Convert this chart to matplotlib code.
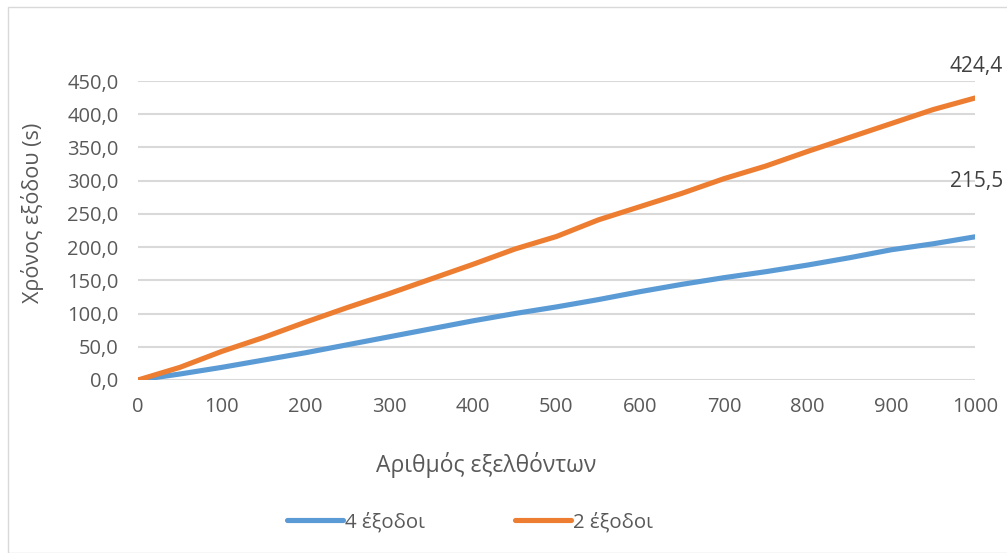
import numpy as np
import matplotlib.pyplot as plt
from matplotlib.patches import Rectangle
from matplotlib.ticker import FuncFormatter

# evacuees (x) and cumulative exit time in seconds for each scenario
evacuees = [0, 50, 100, 150, 200, 250, 300, 350, 400, 450, 500,
            550, 600, 650, 700, 750, 800, 850, 900, 950, 1000]
time_4_exits = [0, 9, 19, 30, 41, 53, 65, 77, 89, 100, 110,
                121, 133, 144, 154, 163, 173, 184, 196, 205, 215.5]
time_2_exits = [0, 19, 43, 64, 87, 109, 130, 152, 174, 197, 216,
                241, 261, 281, 303, 322, 344, 365, 386, 407, 424.4]

series_names = ['4 έξοδοι', '2 έξοδοι']
series_colors = ['#5B9BD5', '#ED7D31']
label_offsets = [40, 23]  # points above the last point
y_ticks = np.arange(0, 451, 50)
x_ticks = np.arange(0, 1001, 100)

plt.rcParams['font.family'] = ['Open Sans', 'DejaVu Sans']
text_color = '#595959'

fig = plt.figure(figsize=(10.07, 5.53), dpi=100)
ax = fig.add_axes([138 / 1007, 1 - 380 / 553, (975 - 138) / 1007, (380 - 81) / 553])

# chart frame
fig.patches.append(Rectangle((8 / 1007, 0), 1.0, 1 - 7 / 553, transform=fig.transFigure,
                             fill=False, edgecolor='#d9d9d9', linewidth=1.0))

lines = []
for ys, name, color, off in zip([time_4_exits, time_2_exits], series_names,
                                series_colors, label_offsets):
    ln, = ax.plot(evacuees, ys, color=color, linewidth=3.7, solid_capstyle='round',
                  solid_joinstyle='round', label=name, zorder=3)
    lines.append(ln)
    ax.annotate(f'{ys[-1]:.1f}'.replace('.', ','), xy=(evacuees[-1], ys[-1]),
                xytext=(1, off), textcoords='offset points', ha='center', va='center',
                fontsize=15, color='#404040', annotation_clip=False)

ax.set_xlim(0, 1000)
ax.set_ylim(0, 450)
ax.set_yticks(y_ticks)
ax.set_xticks(x_ticks)
ax.yaxis.set_major_formatter(FuncFormatter(lambda v, p: f'{v:.1f}'.replace('.', ',')))
ax.grid(axis='y', color='#d9d9d9', linewidth=1.5, zorder=0)
ax.set_axisbelow(True)
for s in ax.spines.values():
    s.set_visible(False)
ax.tick_params(length=0, labelsize=14.5, labelcolor=text_color)
ax.tick_params(axis='y', pad=14)
ax.tick_params(axis='x', pad=12)

fig.text(33 / 1007, 1 - 213 / 553, 'Χρόνος εξόδου (s)', rotation=90, ha='center',
         va='center', fontsize=15.5, color=text_color)
fig.text(486 / 1007, 1 - 465 / 553, 'Αριθμός εξελθόντων', ha='center', va='center',
         fontsize=16.5, color=text_color)

leg = fig.legend(handles=lines, loc='center', bbox_to_anchor=(470 / 1007, 1 - 522 / 553),
                 ncol=2, frameon=False, fontsize=14.7, handlelength=2.75, handletextpad=0.1,
                 columnspacing=4.4)
for t in leg.get_texts():
    t.set_color(text_color)

fig.savefig('out.png', dpi=100)
